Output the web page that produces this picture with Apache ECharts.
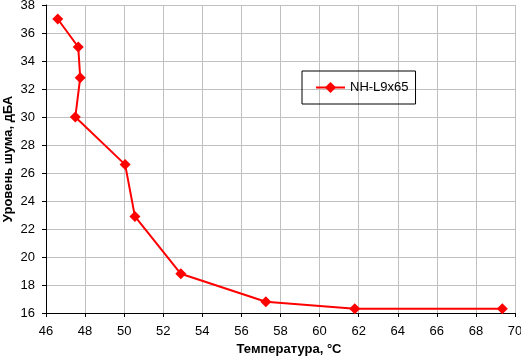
<!DOCTYPE html>
<html><head><meta charset="utf-8">
<script src="https://cdn.jsdelivr.net/npm/echarts@6/dist/echarts.min.js"></script>
<style>html,body{margin:0;padding:0;background:#fff}#c{width:521px;height:357px}</style>
</head><body><div id="c"></div>
<script>
const temperature = [46.6, 47.65, 47.75, 47.5, 50.05, 50.55, 52.9, 57.25, 61.8, 69.35];
const noise = [37, 35, 32.8, 30, 26.6, 22.9, 18.8, 16.8, 16.3, 16.3];
const seriesName = 'NH-L9x65';
const xTitle = 'Температура, °С';
const yTitle = 'Уровень шума, дБА';

const chart = echarts.init(document.getElementById('c'), null, {renderer:'canvas'});
const font = 'Liberation Sans, Arial, sans-serif';
chart.setOption({
  animation:false,
  backgroundColor:'#fff',
  grid:{left:46,right:6,top:5,bottom:44,containLabel:false,outerBoundsMode:'none'},
  legend:{
    left:302, top:71,
    orient:'vertical',
    padding:[10,7,10,13],
    borderColor:'#000', borderWidth:1,
    itemWidth:29, itemHeight:14, itemGap:0,
    textStyle:{fontFamily:font,fontSize:13,color:'#000'},
    data:[seriesName]
  },
  xAxis:{
    type:'value',min:46,max:70,interval:2,
    name:xTitle,nameLocation:'middle',nameGap:30,nameMoveOverlap:false,
    nameTextStyle:{fontFamily:font,fontSize:13,fontWeight:'bold',color:'#000',padding:[0,0,0,17]},
    axisLine:{lineStyle:{color:'#000',width:1}},
    axisTick:{show:true,length:4,lineStyle:{color:'#000'}},
    axisLabel:{fontFamily:font,fontSize:13,color:'#000',margin:12},
    splitLine:{lineStyle:{color:'#c0c0c0',width:1}}
  },
  yAxis:{
    type:'value',min:16,max:38,interval:2,
    name:yTitle,nameLocation:'middle',nameGap:31,nameMoveOverlap:false,
    nameTextStyle:{fontFamily:font,fontSize:13,fontWeight:'bold',color:'#000'},
    axisLine:{show:true,lineStyle:{color:'#000',width:1}},
    axisTick:{show:true,length:4,lineStyle:{color:'#000'}},
    axisLabel:{fontFamily:font,fontSize:13,color:'#000',margin:11},
    splitLine:{lineStyle:{color:'#c0c0c0',width:1}}
  },
  series:[{
    name:seriesName,type:'line',
    data:temperature.map((t,i)=>[t,noise[i]]),
    symbol:'diamond',symbolSize:11,
    lineStyle:{color:'#ff0000',width:2},
    itemStyle:{color:'#ff0000'}
  }]
});
</script></body></html>
